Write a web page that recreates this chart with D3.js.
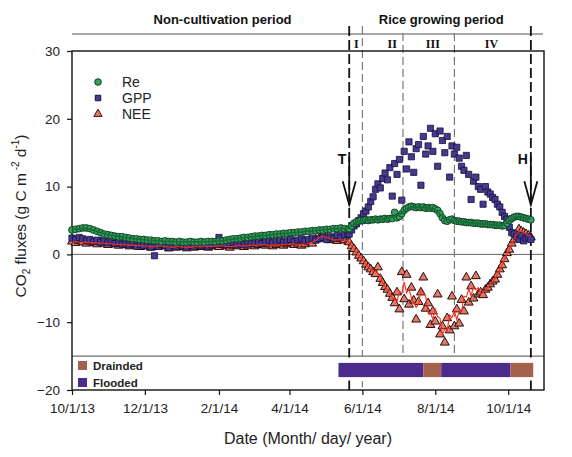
<!DOCTYPE html>
<html><head><meta charset="utf-8">
<script src="https://cdn.jsdelivr.net/npm/d3@7"></script>
<style>body{margin:0;background:#fff}svg{display:block}text{font-family:"Liberation Sans",Arial,sans-serif}</style>
</head><body><svg id="c" width="572" height="457"></svg>
<script>
// ---------- data ----------
const nonStart = "2013-10-01", nonStep = 3;   // non-cultivation samples every 3 days
const riceStart = "2014-05-21", riceStep = 2; // rice-season samples every 2 days

const reNon = [3.6,3.7,3.8,3.9,3.9,3.8,3.6,3.4,3.2,3.0,
  2.9,2.8,2.7,2.6,2.6,2.5,2.4,2.3,2.3,2.2,
  2.2,2.1,2.1,2.0,2.0,1.9,2.0,1.9,1.9,1.8,
  1.9,1.8,1.8,1.9,1.8,1.8,1.9,1.8,1.9,1.9,
  1.9,2.0,2.0,2.1,2.2,2.3,2.3,2.4,2.5,2.5,
  2.6,2.7,2.7,2.8,2.8,2.9,2.9,3.0,3.0,3.1,
  3.1,3.2,3.2,3.3,3.3,3.4,3.4,3.5,3.5,3.6,
  3.6,3.7,3.7,3.8,3.8,3.9,3.8,3.7];
const gppNon = [2.4,2.2,2.5,2.3,2.0,2.2,1.9,2.1,1.8,2.0,
  1.7,1.9,1.6,1.8,1.5,1.7,1.4,1.6,1.2,1.5,
  1.3,1.6,1.1,-0.2,1.2,1.5,1.3,1.0,1.4,1.2,
  1.5,1.3,1.1,1.4,1.2,1.5,1.3,1.6,1.2,1.4,
  1.5,2.5,1.6,1.4,1.5,1.7,1.4,1.6,1.5,1.8,
  1.6,1.7,1.9,1.6,1.8,2.0,1.7,1.9,2.1,1.8,
  2.0,2.2,1.9,2.1,2.3,2.0,2.2,2.4,2.1,2.3,
  2.5,2.2,2.6,2.4,2.8,2.5,2.9,3.0];
const neeNon = [1.9,1.7,2.0,1.8,1.6,1.9,1.7,1.5,1.8,1.6,
  1.4,1.7,1.5,1.3,1.6,1.4,1.2,1.5,1.3,1.1,
  1.4,1.2,1.0,1.3,1.1,1.4,1.2,0.9,1.2,1.0,
  1.3,1.1,0.9,1.2,1.0,1.3,1.1,1.4,1.0,1.2,
  1.3,1.1,1.4,1.2,1.0,1.3,1.2,1.4,1.1,1.3,
  1.5,1.2,1.4,1.6,1.3,1.5,1.2,1.4,1.6,1.3,
  1.5,1.7,1.4,1.6,1.3,1.5,1.8,1.6,2.2,2.4,
  2.9,2.6,2.1,2.2,2.0,2.3,2.1,1.9];

const reRice = [3.8,4.2,4.6,4.8,4.9,5.0,5.0,5.1,5.0,5.1,
  5.1,5.2,5.1,5.2,5.2,5.3,5.2,5.3,5.3,6.2,
  5.4,5.6,6.0,6.5,6.8,7.0,7.1,7.0,6.9,7.0,
  6.9,7.0,6.8,6.9,6.8,6.9,6.7,6.5,6.0,5.4,
  5.0,4.9,5.1,5.2,5.0,4.9,4.9,4.8,4.8,4.7,
  4.7,4.7,4.6,4.6,4.6,4.5,4.5,4.5,4.4,4.4,
  4.4,4.3,4.3,4.3,4.2,4.3,4.6,5.0,5.3,5.5,
  5.6,5.6,5.5,5.4,5.3,5.2,5.1];
const gppRice = [3.0,3.6,4.2,4.5,5.0,5.4,6.0,6.4,7.0,7.8,
  8.5,9.6,10.4,9.8,11.2,12.0,11.0,12.8,8.6,13.4,
  11.8,14.0,8.0,15.2,12.6,16.6,14.4,12.1,15.6,16.2,
  10.2,17.4,14.8,16.0,18.6,15.2,17.8,13.0,18.2,16.8,
  15.0,17.4,11.4,16.0,14.8,15.8,14.2,13.0,12.4,14.6,
  11.8,8.1,10.8,11.4,10.0,9.6,7.4,10.0,9.2,8.9,
  8.4,8.1,7.4,7.0,6.2,5.6,5.2,4.0,3.2,3.0,
  2.6,2.2,2.8,2.0,2.4,2.6,2.2];
const neeRice = [1.8,1.2,0.8,0.3,-0.2,-0.6,-1.0,-1.5,-1.9,-2.2,
  -2.6,-2.9,-1.9,-3.6,-4.2,-4.8,-5.2,-5.8,-6.4,-7.2,
  -5.6,-8.1,-2.6,-6.6,-3.0,-7.4,-4.9,-6.8,-9.6,-7.0,
  -5.6,-3.4,-8.0,-7.2,-10.4,-8.4,-9.9,-5.9,-11.8,-10.6,
  -13.0,-9.4,-11.2,-6.2,-10.6,-8.1,-10.2,-6.7,-8.4,-3.4,
  -7.1,-4.7,-6.5,-3.2,-5.9,-5.6,-6.0,-5.2,-4.9,-4.4,
  -4.0,-3.7,-3.0,-2.2,-1.6,-0.7,0.2,0.7,1.6,2.2,
  3.0,3.7,3.4,3.2,3.0,2.8,2.5];

const xTickDates = ["2013-10-01","2013-12-01","2014-02-01","2014-04-01","2014-06-01","2014-08-01","2014-10-01"];
const yTickValues = [-20,-10,0,10,20,30];
const eventDates = ["2014-05-21","2014-10-20"];   // transplanting / harvest
const eventLabels = ["T","H"];
const stageDates = ["2014-06-01","2014-07-05","2014-08-17"];
const stageLabels = ["I","II","III","IV"];
const stageLabelDates = ["2014-05-27","2014-06-26","2014-07-30","2014-09-17"];
const periodLabels = ["Non-cultivation  period","Rice growing period"];
const periodLabelDates = ["2014-02-04","2014-08-06"];
const waterTypes = ["Flooded","Drainded","Flooded","Drainded"];
const waterStarts = ["2014-05-12","2014-07-22","2014-08-06","2014-10-03"];
const waterEnds   = ["2014-07-22","2014-08-06","2014-10-03","2014-10-22"];
const seriesNames = ["Re","GPP","NEE"];

// ---------- layout ----------
const svg = d3.select("#c");
const parse = d3.timeParse("%Y-%m-%d");
const L = 72, R = 544, T = 51, B = 390;
const x = d3.scaleTime().domain([parse("2013-10-01"), parse("2014-10-31")]).range([L, R]);
const y = d3.scaleLinear().domain([-20, 30]).range([B, T]);

const col = {
  reFill:"#35a060", reLine:"#13703a", gppFill:"#463a8e", neeFill:"#e07a68", neeLine:"#ff2a1a",
  flood:"#4b2c8c", drain:"#a4624e"
};

function build(start, step, vals){
  const s = parse(start);
  return vals.map((v,i)=>({date:d3.timeDay.offset(s, i*step), v}));
}
const re = build(nonStart,nonStep,reNon).concat(build(riceStart,riceStep,reRice));
const gpp = build(nonStart,nonStep,gppNon).concat(build(riceStart,riceStep,gppRice));
const nee = build(nonStart,nonStep,neeNon).concat(build(riceStart,riceStep,neeRice));
function smooth(arr, w){
  const h = Math.floor(w/2);
  return arr.map((d,i)=>{
    const sl = arr.slice(Math.max(0,i-h), Math.min(arr.length,i+h+1));
    return {date:d.date, v:d3.mean(sl, e=>e.v)};
  });
}

// header
svg.append("line").attr("x1",L).attr("x2",R-1).attr("y1",34).attr("y2",34).attr("stroke","#8a8a8a").attr("stroke-width",1.4);
periodLabels.forEach((t,i)=>{
  svg.append("text").attr("x",x(parse(periodLabelDates[i]))).attr("y",24).attr("text-anchor","middle")
    .attr("font-size",13).attr("font-weight","bold").attr("fill","#111")
    .attr("font-family","'Noto Sans',sans-serif").text(t);
});
stageLabels.forEach((t,i)=>{
  svg.append("text").attr("x",x(parse(stageLabelDates[i]))).attr("y",48).attr("text-anchor","middle")
    .attr("font-size",12).attr("font-weight","bold").attr("fill","#111")
    .style("font-family","'Liberation Serif',serif").text(t);
});

// reference lines
svg.append("line").attr("x1",L).attr("x2",R).attr("y1",y(0)).attr("y2",y(0)).attr("stroke","#555").attr("stroke-width",0.9);
svg.append("line").attr("x1",L).attr("x2",R).attr("y1",y(-15)).attr("y2",y(-15)).attr("stroke","#333").attr("stroke-width",0.9);

// vertical period lines
stageDates.forEach((d,i)=>{
  const xx = x(parse(d));
  svg.append("line").attr("x1",xx).attr("x2",xx).attr("y1",i===0?26:33).attr("y2",y(-15))
    .attr("stroke","#6e6e6e").attr("stroke-width",1.1).attr("stroke-dasharray","8,4");
  if(i===0) svg.append("line").attr("x1",xx).attr("x2",xx).attr("y1",y(-18.7)).attr("y2",B)
    .attr("stroke","#6e6e6e").attr("stroke-width",1.1).attr("stroke-dasharray","6,4");
});
eventDates.forEach((d,i)=>{
  const xx = x(parse(d));
  svg.append("line").attr("x1",xx).attr("x2",xx).attr("y1",26).attr("y2",y(-15.2))
    .attr("stroke","#111").attr("stroke-width",1.8).attr("stroke-dasharray","10,4");
  svg.append("line").attr("x1",xx).attr("x2",xx).attr("y1",y(-18.6)).attr("y2",B)
    .attr("stroke","#111").attr("stroke-width",1.8);
});

// water regime bar
waterTypes.forEach((t,i)=>{
  const x0 = x(parse(waterStarts[i])), x1 = x(parse(waterEnds[i]));
  svg.append("rect").attr("x",x0).attr("width",x1-x0).attr("y",y(-16)).attr("height",y(-18.1)-y(-16))
    .attr("fill", t==="Flooded"?col.flood:col.drain);
});
// water legend
["Drainded","Flooded"].forEach((t,i)=>{
  const yy = 361 + i*17;
  svg.append("rect").attr("x",78).attr("y",yy).attr("width",9).attr("height",9)
    .attr("fill", t==="Flooded"?col.flood:col.drain);
  svg.append("text").attr("x",93).attr("y",yy+8.5).attr("font-size",11.5).attr("font-weight","bold")
    .attr("fill","#222").text(t);
});

// axes
const gy = svg.append("g").attr("transform",`translate(${L},0)`)
  .call(d3.axisLeft(y).tickValues(yTickValues).tickSize(5).tickPadding(7).tickFormat(d3.format("d")));
const gx = svg.append("g").attr("transform",`translate(0,${B})`)
  .call(d3.axisBottom(x).tickValues(xTickDates.map(parse)).tickSize(5).tickPadding(8).tickFormat(d3.timeFormat("%-m/%-d/%y")));
[gy,gx].forEach(g=>{
  g.select(".domain").remove();
  g.selectAll("text").attr("font-size",13.5).attr("fill","#222").style("font-family","'Liberation Sans',Arial,sans-serif");
  g.selectAll("line").attr("stroke","#111").attr("stroke-width",1.2);
});
// box
svg.append("rect").attr("x",L).attr("y",T).attr("width",R-L).attr("height",B-T)
  .attr("fill","none").attr("stroke","#111").attr("stroke-width",1.4);

// axis titles
svg.append("text").attr("x",308).attr("y",444).attr("text-anchor","middle").attr("font-size",16)
  .attr("fill","#222").text("Date (Month/ day/ year)");
const yt = svg.append("text").attr("transform","translate(26,216) rotate(-90)").attr("text-anchor","middle")
  .attr("font-size",15.5).attr("fill","#222");
yt.append("tspan").text("CO");
yt.append("tspan").attr("font-size",10).attr("dy",4).text("2");
yt.append("tspan").attr("dy",-4).text(" fluxes (g C m");
yt.append("tspan").attr("font-size",10).attr("dy",-7).text(" -2");
yt.append("tspan").attr("dy",7).text(" d");
yt.append("tspan").attr("font-size",10).attr("dy",-7).text("-1");
yt.append("tspan").attr("dy",7).text(")");

// data marks
const plot = svg.append("g");
plot.selectAll(".nee").data(nee).join("path").attr("class","nee")
  .attr("transform",d=>`translate(${x(d.date)},${y(d.v)})`)
  .attr("d", d3.symbol(d3.symbolTriangle, 34)).attr("fill",col.neeFill).attr("stroke","#2a0c0c").attr("stroke-width",1);
plot.selectAll(".gpp").data(gpp).join("path").attr("class","gpp")
  .attr("transform",d=>`translate(${x(d.date)},${y(d.v)})`)
  .attr("d", d3.symbol(d3.symbolSquare, 38)).attr("fill",col.gppFill).attr("stroke","#15103a").attr("stroke-width",0.8);
plot.selectAll(".re").data(re).join("circle").attr("class","re")
  .attr("cx",d=>x(d.date)).attr("cy",d=>y(d.v)).attr("r",3.4)
  .attr("fill",col.reFill).attr("stroke","#0f3a1c").attr("stroke-width",0.9);

const line = d3.line().x(d=>x(d.date)).y(d=>y(d.v)).curve(d3.curveLinear);
plot.append("path").datum(smooth(re,5)).attr("d",line).attr("fill","none").attr("stroke",col.reLine).attr("stroke-width",1.8);
plot.append("path").datum(smooth(nee,3)).attr("d",line).attr("fill","none").attr("stroke",col.neeLine).attr("stroke-width",1.1);

// T / H arrows
eventDates.forEach((d,i)=>{
  const xx = x(parse(d));
  const g = svg.append("g").attr("stroke","#111").attr("stroke-width",1.8).attr("fill","none");
  g.append("line").attr("x1",xx).attr("x2",xx).attr("y1",y(14.4)).attr("y2",y(7.3));
  g.append("polyline").attr("points",`${xx-6.5},${y(10.8)} ${xx},${y(7.3)} ${xx+6.5},${y(10.8)}`);
  svg.append("text").attr("x",xx-3).attr("y",y(13.4)).attr("text-anchor","end").attr("font-size",14)
    .attr("font-weight","bold").attr("fill","#111").text(eventLabels[i]);
});

// series legend
seriesNames.forEach((n,i)=>{
  const yy = 82 + i*16;
  if(n==="Re") svg.append("circle").attr("cx",98).attr("cy",yy).attr("r",3.3).attr("fill",col.reFill).attr("stroke","#0f3a1c");
  if(n==="GPP") svg.append("path").attr("transform",`translate(98,${yy})`).attr("d",d3.symbol(d3.symbolSquare,30)).attr("fill",col.gppFill).attr("stroke","#15103a");
  if(n==="NEE") svg.append("path").attr("transform",`translate(98,${yy})`).attr("d",d3.symbol(d3.symbolTriangle,30)).attr("fill",col.neeFill).attr("stroke","#3a1010");
  svg.append("text").attr("x",122).attr("y",yy+5).attr("font-size",14).attr("fill","#222").text(n);
});
</script></body></html>
